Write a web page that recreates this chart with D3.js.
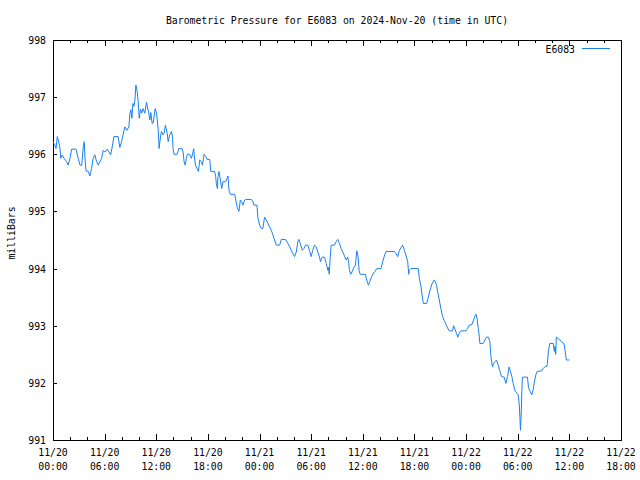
<!DOCTYPE html>
<html>
<head>
<meta charset="utf-8">
<script src="https://cdn.jsdelivr.net/npm/d3@7"></script>
<style>
  html, body { margin: 0; padding: 0; background: #fff; }
  svg { display: block; }
  text { font-family: "DejaVu Sans Mono", "Liberation Mono", monospace; font-size: 9.8px; fill: #000; }
</style>
</head>
<body>
<svg id="chart" width="640" height="480"></svg>
<script>
// ---- Data (minutes after 2024-11-20 00:00 UTC, pressure in mb) ----
const titleText = "Barometric Pressure for E6083 on 2024-Nov-20 (time in UTC)";
const yLabelText = "milliBars";
const seriesName = "E6083";
const yTicks = [991, 992, 993, 994, 995, 996, 997, 998];
const xTickLabels = [
  ["11/20","00:00"],["11/20","06:00"],["11/20","12:00"],["11/20","18:00"],
  ["11/21","00:00"],["11/21","06:00"],["11/21","12:00"],["11/21","18:00"],
  ["11/22","00:00"],["11/22","06:00"],["11/22","12:00"],["11/22","18:00"]
];
const minutes = [
  0,14,21,30,37,49,54,65,77,95,106,118,130,160,176,188,200,211,218,223,230,246,257,269,280,292,304,315,327,339,
  350,362,378,390,402,413,425,454,466,478,489,501,515,529,536,543,550,557,564,571,578,587,594,601,610,619,628,640,652,661,
  668,675,682,691,699,712,722,733,740,745,756,768,775,784,796,803,814,826,833,837,844,865,877,900,907,914,921,930,937,953,
  965,972,981,986,993,1004,1014,1023,1035,1042,1053,1065,1074,1093,1100,1127,1134,1139,1146,1150,1157,1167,1176,1185,1204,1213,1220,1227,1237,1267,
  1274,1283,1296,1306,1315,1324,1336,1343,1383,1394,1401,1422,1429,1441,1452,1463,1475,1487,1498,1510,1522,1533,1545,1557,1580,1592,1621,1637,1649,1661,
  1672,1684,1696,1707,1714,1724,1738,1749,1761,1777,1788,1800,1811,1823,1835,1846,1858,1865,1877,1893,1905,1916,1921,1926,1933,1939,1962,1974,1985,1997,
  2009,2020,2032,2044,2055,2062,2067,2076,2086,2097,2109,2113,2118,2127,2134,2141,2178,2187,2199,2211,2222,2234,2246,2257,2287,2299,2310,2322,2380,2392,
  2403,2415,2427,2438,2450,2462,2473,2480,2484,2496,2547,2554,2566,2573,2582,2605,2617,2628,2642,2658,2665,2674,2681,2693,2705,2716,2728,2740,2751,2763,
  2786,2793,2804,2814,2822,2832,2844,2879,2890,2902,2921,2932,2942,2949,2956,2965,2972,2976,2999,3011,3022,3036,3046,3053,3064,3071,3081,3092,3104,3116,
  3127,3146,3157,3169,3180,3187,3199,3208,3220,3234,3243,3250,3255,3259,3264,3269,3273,3308,3315,3326,3338,3347,3354,3366,3375,3408,3417,3429,3443,3447,
  3454,3464,3488,3495,3500,3505,3509,3528,3547,3563,3570,3579,3600
];
const pressure = [
  996.22,996.16,996.10,996.31,996.25,996.10,995.93,995.99,995.93,995.87,995.81,995.93,996.09,996.09,995.93,995.81,995.81,996.13,996.22,995.93,995.71,995.70,995.62,995.75,995.93,995.99,995.87,995.81,995.87,995.93,
  996.07,996.04,996.09,996.04,995.99,996.13,996.31,996.31,996.12,996.22,996.35,996.48,996.42,996.48,996.72,996.78,996.63,996.89,996.84,996.95,997.21,997.10,996.92,996.63,996.79,996.72,996.80,996.72,996.91,996.79,
  996.72,996.60,996.73,996.54,996.55,996.80,996.72,996.45,996.10,996.22,996.40,996.34,996.37,996.51,996.37,996.22,996.34,996.40,996.31,996.10,996.00,996.00,996.10,996.10,996.04,995.87,995.81,995.93,996.00,996.00,
  995.93,995.99,996.10,995.95,995.81,995.75,995.70,995.90,995.87,995.81,996.00,995.96,995.91,995.91,995.70,995.70,995.61,995.49,995.40,995.61,995.70,995.55,995.40,995.52,995.52,995.58,995.62,995.37,995.30,995.30,
  995.20,995.08,995.00,995.20,995.17,995.11,995.20,995.21,995.21,995.17,995.11,995.11,994.88,994.76,994.70,994.70,994.90,994.85,994.79,994.73,994.67,994.59,994.50,994.41,994.41,994.51,994.51,994.44,994.39,994.32,
  994.26,994.21,994.29,994.47,994.51,994.44,994.32,994.35,994.41,994.41,994.32,994.21,994.32,994.41,994.38,994.29,994.20,994.12,994.20,994.20,994.09,993.97,994.02,993.90,994.21,994.41,994.41,994.47,994.51,994.44,
  994.35,994.29,994.22,994.15,994.20,994.09,993.97,993.90,993.95,994.02,994.06,994.18,994.31,994.21,993.97,993.90,993.90,993.80,993.71,993.79,993.86,993.92,993.95,994.00,994.00,994.12,994.22,994.30,994.30,994.26,
  994.21,994.32,994.37,994.41,994.32,994.22,994.12,993.90,993.97,994.00,994.00,993.83,993.68,993.54,993.39,993.39,993.50,993.62,993.73,993.80,993.77,993.71,993.60,993.45,993.29,993.16,993.09,993.02,992.96,992.91,
  992.91,993.00,992.93,992.86,992.80,992.87,992.91,992.91,992.95,993.01,993.02,993.10,993.17,993.20,993.13,992.95,992.81,992.69,992.69,992.75,992.80,992.80,992.72,992.46,992.28,992.34,992.37,992.40,992.31,992.20,
  992.11,992.10,991.99,992.11,992.28,992.22,992.11,991.99,991.87,991.82,991.79,991.64,991.41,991.17,991.44,991.87,992.10,992.10,991.92,991.85,991.79,991.87,991.99,992.14,992.20,992.21,992.25,992.28,992.29,992.34,
  992.57,992.69,992.69,992.55,992.64,992.50,992.80,992.76,992.72,992.68,992.57,992.40,992.40
];

// ---- Layout ----
const svg = d3.select("#chart");
const L = 53, R = 621, T = 40, B = 440;
const start = Date.UTC(2024, 10, 20, 0, 0);
const end = Date.UTC(2024, 10, 22, 18, 0);

const x = d3.scaleUtc().domain([new Date(start), new Date(end)]).range([L, R]);
const y = d3.scaleLinear().domain([991, 998]).range([B, T]);

const data = minutes.map((m, i) => ({ t: new Date(start + m * 60000), v: pressure[i] }));

// frame
svg.append("rect")
  .attr("x", L + 0.5).attr("y", T + 0.5)
  .attr("width", R - L).attr("height", B - T)
  .attr("fill", "none").attr("stroke", "#000").attr("stroke-width", 1)
  .attr("shape-rendering", "crispEdges");

// x ticks (major every 6h, minor every 2h), bottom and mirrored top
const majorT = x.ticks(d3.utcHour.every(6));
const minorT = x.ticks(d3.utcHour.every(2));
const tg = svg.append("g").attr("stroke", "#000").attr("shape-rendering", "crispEdges");
minorT.forEach(d => {
  const px = Math.round(x(d)) + 0.5;
  const isMajor = d.getUTCHours() % 6 === 0;
  const len = isMajor ? 6 : 3;
  tg.append("line").attr("x1", px).attr("x2", px).attr("y1", B).attr("y2", B - len);
  tg.append("line").attr("x1", px).attr("x2", px).attr("y1", T).attr("y2", T + len);
});

// x tick labels
majorT.forEach((d, i) => {
  const px = x(d);
  const lab = xTickLabels[i];
  const t = svg.append("text").attr("text-anchor", "middle");
  t.append("tspan").attr("x", px).attr("y", 456).text(lab[0]);
  t.append("tspan").attr("x", px).attr("y", 470).text(lab[1]);
});

// y ticks & labels
yTicks.forEach(v => {
  const py = Math.round(y(v)) + 0.5;
  tg.append("line").attr("x1", L).attr("x2", L + 4).attr("y1", py).attr("y2", py);
  svg.append("text").attr("x", 46).attr("y", y(v) + 4).attr("text-anchor", "end").text(v);
});

// title
svg.append("text").attr("x", (L + R) / 2).attr("y", 24).attr("text-anchor", "middle").text(titleText);

// y label
svg.append("text")
  .attr("transform", `translate(14.5,233) rotate(-90)`)
  .attr("text-anchor", "middle").text(yLabelText);

// legend
svg.append("text").attr("x", 575).attr("y", 53).attr("text-anchor", "end").text(seriesName);
svg.append("line").attr("x1", 582).attr("x2", 610).attr("y1", 48.5).attr("y2", 48.5)
  .attr("stroke", "#1a80f0").attr("stroke-width", 1).attr("shape-rendering", "crispEdges");

// series line
const line = d3.line().x(d => x(d.t)).y(d => y(d.v));
svg.append("path").datum(data)
  .attr("d", line)
  .attr("fill", "none")
  .attr("stroke", "#1a80f0")
  .attr("stroke-width", 1);
</script>
</body>
</html>
